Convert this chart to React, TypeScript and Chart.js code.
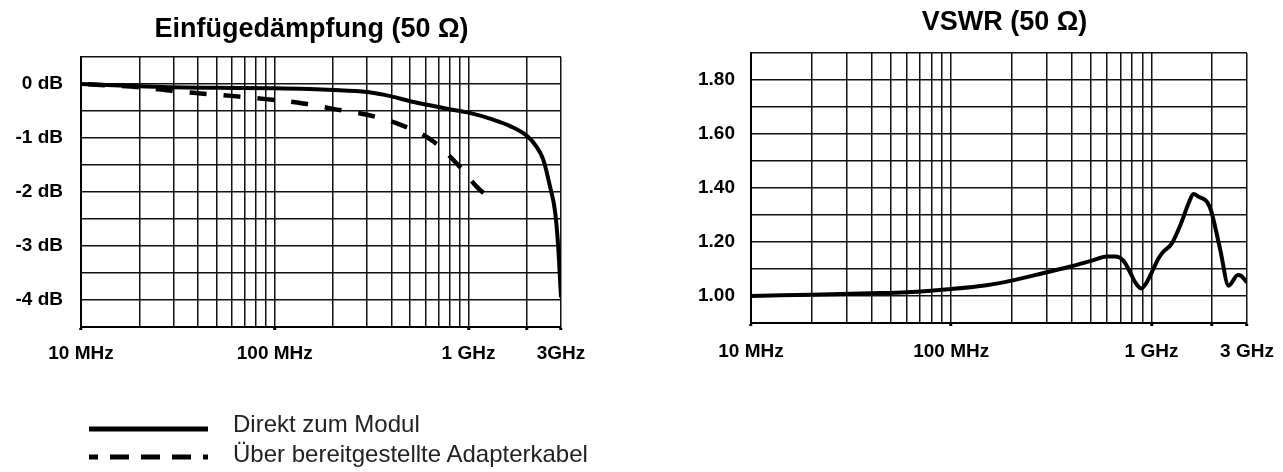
import React, { useEffect, useRef } from 'react';
import { Chart, registerables } from 'chart.js';

Chart.register(...registerables);

const FONT = '"Liberation Sans", Arial, Helvetica, sans-serif';

// Vertical grid lines (MHz)
const gridFreqs = [10, 20, 30, 40, 50, 60, 70, 80, 90, 100, 200, 300, 400, 500, 600, 700, 800, 900, 1000, 2000, 3000];
const xLabelValues = [10, 100, 1000, 3000];
const xLabelsLeft = ['10 MHz', '100 MHz', '1 GHz', '3GHz'];
const xLabelsRight = ['10 MHz', '100 MHz', '1 GHz', '3 GHz'];
const xDotFreqs = [10, 100, 1000, 2000, 3000];

// Insertion loss axis
const ilGrid = [-4.5, -4, -3.5, -3, -2.5, -2, -1.5, -1, -0.5, 0, 0.5];
const ilLabelValues = [0, -1, -2, -3, -4];
const ilLabels = ['0 dB', '-1 dB', '-2 dB', '-3 dB', '-4 dB'];

// VSWR axis
const vswrGrid = [0.9, 1.0, 1.1, 1.2, 1.3, 1.4, 1.5, 1.6, 1.7, 1.8, 1.9];
const vswrLabelValues = [1.0, 1.2, 1.4, 1.6, 1.8];
const vswrLabels = ['1.00', '1.20', '1.40', '1.60', '1.80'];

const titles = ['Einfügedämpfung (50 Ω)', 'VSWR (50 Ω)'];
const seriesNames = ['Direkt zum Modul', 'Über bereitgestellte Adapterkabel'];

// Series: direct to module (MHz, dB)
const directFreq = [10, 20, 30, 50, 100, 200, 300, 400, 500, 600, 750, 1000, 1340, 1640, 2000, 2240, 2430, 2630, 2800, 2900, 3000];
const directIL = [0, -0.04, -0.06, -0.07, -0.08, -0.11, -0.15, -0.23, -0.32, -0.38, -0.45, -0.53, -0.66, -0.78, -0.96, -1.16, -1.4, -1.89, -2.38, -3.0, -3.95];

// Series: via supplied adapter cable (MHz, dB)
const adapterFreq = [10, 20, 30, 40, 60, 90, 140, 200, 300, 450, 650, 900, 1100, 1250];
const adapterIL = [0, -0.06, -0.13, -0.17, -0.22, -0.28, -0.36, -0.46, -0.57, -0.76, -1.05, -1.53, -1.9, -2.08];

// VSWR (MHz, ratio)
const vswrFreq = [10, 20, 40, 60, 100, 150, 200, 300, 400, 500, 600, 660, 724, 782, 830, 888, 935, 985, 1080, 1140, 1260, 1390, 1540, 1620, 1700, 1960, 2200, 2430, 2700, 2800, 3000];
const vswrValue = [1.0, 1.005, 1.01, 1.014, 1.026, 1.04, 1.057, 1.088, 1.11, 1.13, 1.146, 1.146, 1.131, 1.088, 1.05, 1.028, 1.044, 1.075, 1.137, 1.162, 1.193, 1.26, 1.347, 1.378, 1.37, 1.328, 1.175, 1.038, 1.078, 1.075, 1.05];

function pts(xs: number[], ys: number[]) {
  return xs.map((x, i) => ({ x, y: ys[i] }));
}

function lookup(v: number, values: number[], labels: string[]) {
  const i = values.findIndex((t) => Math.abs(t - v) < 1e-6);
  return i >= 0 ? labels[i] : '';
}

function titlePlugin(text: string, dx: number, baseline: number) {
  return {
    id: 'panelTitle',
    afterDraw(chart: any) {
      const { ctx, chartArea } = chart;
      ctx.save();
      ctx.font = `bold 27px ${FONT}`;
      ctx.fillStyle = '#000';
      ctx.textAlign = 'center';
      ctx.textBaseline = 'alphabetic';
      ctx.fillText(text, (chartArea.left + chartArea.right) / 2 + dx, baseline);
      ctx.restore();
    },
  };
}

type Opts = {
  top: number;
  yAxisWidth: number;
  yPad: number;
  xAxisHeight: number;
  xPad: number;
  padRight: number;
  yMin: number;
  yMax: number;
  yGrid: number[];
  yLabelValues: number[];
  yLabels: string[];
  xLabels: string[];
};

function buildOptions(o: Opts): any {
  const tickFont = { family: FONT, size: 19, weight: 'bold' as const };
  return {
    responsive: false,
    animation: false,
    layout: { padding: { left: 0, right: o.padRight, top: o.top, bottom: 0 } },
    plugins: {
      legend: { display: false },
      tooltip: { enabled: false },
      title: { display: false },
    },
    scales: {
      x: {
        type: 'logarithmic',
        min: 10,
        max: 3000,
        grid: {
          color: '#111',
          lineWidth: 1.5,
          drawTicks: true,
          tickLength: 3,
          tickWidth: 3,
          tickColor: (c: any) =>
            c.tick && xDotFreqs.some((f) => Math.abs(f - c.tick.value) < 1e-6) ? '#000' : 'rgba(0,0,0,0)',
        },
        border: { display: true, color: '#000', width: 2 },
        ticks: {
          autoSkip: false,
          maxRotation: 0,
          minRotation: 0,
          padding: o.xPad,
          color: '#000',
          font: tickFont,
          callback: (v: number) => lookup(Number(v), xLabelValues, o.xLabels),
        },
        afterBuildTicks: (s: any) => {
          s.ticks = gridFreqs.map((value) => ({ value }));
        },
        afterFit: (s: any) => {
          s.height = o.xAxisHeight;
        },
      },
      y: {
        type: 'linear',
        min: o.yMin,
        max: o.yMax,
        grid: { color: '#111', lineWidth: 1.5, drawTicks: false },
        border: { display: true, color: '#000', width: 2 },
        ticks: {
          autoSkip: false,
          padding: o.yPad,
          color: '#000',
          font: tickFont,
          callback: (v: number) => lookup(Number(v), o.yLabelValues, o.yLabels),
        },
        afterBuildTicks: (s: any) => {
          s.ticks = o.yGrid.map((value) => ({ value }));
        },
        afterFit: (s: any) => {
          s.width = o.yAxisWidth;
        },
      },
    },
  };
}

export default function App() {
  const leftRef = useRef<HTMLCanvasElement>(null);
  const rightRef = useRef<HTMLCanvasElement>(null);

  useEffect(() => {
    const left = new Chart(leftRef.current as HTMLCanvasElement, {
      type: 'line',
      data: {
        datasets: [
          {
            label: seriesNames[0],
            data: pts(directFreq, directIL),
            borderColor: '#000',
            borderWidth: 4,
            pointRadius: 0,
            cubicInterpolationMode: 'monotone',
            fill: false,
          },
          {
            label: seriesNames[1],
            data: pts(adapterFreq, adapterIL),
            borderColor: '#000',
            borderWidth: 4.5,
            borderDash: [17, 17],
            borderDashOffset: 27,
            pointRadius: 0,
            cubicInterpolationMode: 'monotone',
            fill: false,
          },
        ],
      },
      options: buildOptions({
        top: 57,
        yAxisWidth: 81,
        yPad: 18,
        xAxisHeight: 53,
        xPad: 12,
        padRight: 79,
        yMin: -4.5,
        yMax: 0.5,
        yGrid: ilGrid,
        yLabelValues: ilLabelValues,
        yLabels: ilLabels,
        xLabels: xLabelsLeft,
      }),
      plugins: [titlePlugin(titles[0], -9.5, 36.8)],
    } as any);

    const right = new Chart(rightRef.current as HTMLCanvasElement, {
      type: 'line',
      data: {
        datasets: [
          {
            label: 'VSWR',
            data: pts(vswrFreq, vswrValue),
            borderColor: '#000',
            borderWidth: 4,
            pointRadius: 0,
            cubicInterpolationMode: 'monotone',
            fill: false,
          },
        ],
      },
      options: buildOptions({
        top: 53,
        yAxisWidth: 111,
        yPad: 16,
        xAxisHeight: 57,
        xPad: 14,
        padRight: 72,
        yMin: 0.9,
        yMax: 1.9,
        yGrid: vswrGrid,
        yLabelValues: vswrLabelValues,
        yLabels: vswrLabels,
        xLabels: xLabelsRight,
      }),
      plugins: [titlePlugin(titles[1], 5.5, 30.3)],
    } as any);

    return () => {
      left.destroy();
      right.destroy();
    };
  }, []);

  return (
    <div
      style={{
        position: 'absolute',
        left: 0,
        top: 0,
        width: 1283,
        height: 472,
        overflow: 'hidden',
        background: '#fff',
      }}
    >
      <canvas ref={leftRef} width={640} height={380} style={{ position: 'absolute', left: 0, top: 0 }} />
      <canvas ref={rightRef} width={679} height={380} style={{ position: 'absolute', left: 640, top: 0 }} />
      <svg
        width={1283}
        height={472}
        style={{ position: 'absolute', left: 0, top: 0, pointerEvents: 'none' }}
      >
        <line x1={89} x2={208} y1={429} y2={429} stroke="#000" strokeWidth={5} />
        <line
          x1={89}
          x2={208}
          y1={457}
          y2={457}
          stroke="#000"
          strokeWidth={5}
          strokeDasharray="19 12"
          strokeDashoffset={10}
        />
        <text x={233} y={431.5} fontFamily={FONT} fontSize={24} fill="#222">
          {seriesNames[0]}
        </text>
        <text x={233} y={461.5} fontFamily={FONT} fontSize={24} fill="#222">
          {seriesNames[1]}
        </text>
      </svg>
    </div>
  );
}
